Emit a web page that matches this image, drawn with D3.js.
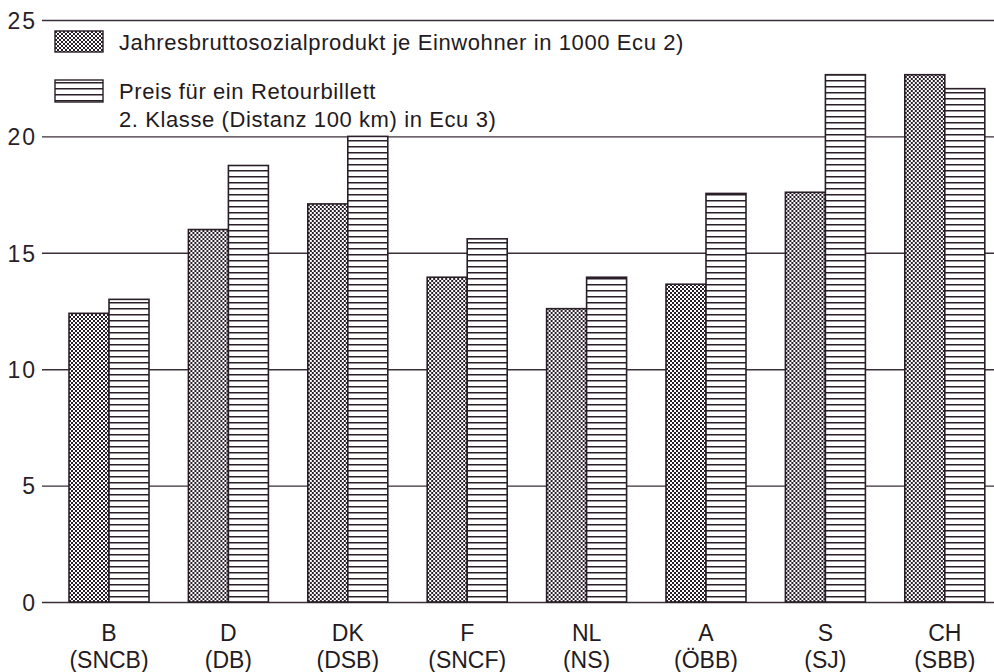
<!DOCTYPE html>
<html>
<head>
<meta charset="utf-8">
<script src="https://cdn.jsdelivr.net/npm/d3@7"></script>
<style>
  body { margin: 0; background: #fff; }
  svg { display: block; }
  text { font-family: "Liberation Sans", Arial, Helvetica, sans-serif; fill: #231a22; }
</style>
</head>
<body>
<div id="chart"></div>
<script>
// Country codes and railway names (x axis, two lines)
const countries = ['B', 'D', 'DK', 'F', 'NL', 'A', 'S', 'CH'];
const railways = ['(SNCB)', '(DB)', '(DSB)', '(SNCF)', '(NS)', '(ÖBB)', '(SJ)', '(SBB)'];

// GNP per inhabitant, 1000 Ecu
const gnpValues = [12.4, 16.0, 17.1, 13.95, 12.6, 13.65, 17.6, 22.65];
// Return ticket price, 2nd class, 100 km, Ecu
const ticketValues = [13.0, 18.75, 20.0, 15.6, 13.95, 17.55, 22.65, 22.05];

const yTicks = [0, 5, 10, 15, 20, 25];

const seriesKeys = ['gnp', 'ticket'];
const legendLines = [
    ['Jahresbruttosozialprodukt je Einwohner in 1000 Ecu 2)'],
    ['Preis für ein Retourbillett', '2. Klasse (Distanz 100 km) in Ecu 3)']
];

function drawChart() {
    const width = 994;
    const height = 672;
    const ink = '#2a1f29';

    const data = countries.map((c, i) => ({
        country: c,
        railway: railways[i],
        gnp: gnpValues[i],
        ticket: ticketValues[i]
    }));

    const svg = d3.select('#chart').append('svg')
        .attr('width', width)
        .attr('height', height);

    // Fill patterns: fine checker and horizontal hatching
    const defs = svg.append('defs');
    const checker = defs.append('pattern')
        .attr('id', 'pat-gnp')
        .attr('patternUnits', 'userSpaceOnUse')
        .attr('width', 4)
        .attr('height', 4);
    checker.append('rect').attr('width', 4).attr('height', 4).attr('fill', '#fff');
    checker.append('rect').attr('width', 2).attr('height', 2).attr('fill', ink);
    checker.append('rect').attr('x', 2).attr('y', 2).attr('width', 2).attr('height', 2).attr('fill', ink);

    const stripes = defs.append('pattern')
        .attr('id', 'pat-ticket')
        .attr('patternUnits', 'userSpaceOnUse')
        .attr('width', 8)
        .attr('height', 6);
    stripes.append('rect').attr('width', 8).attr('height', 6).attr('fill', '#fff');
    stripes.append('rect').attr('y', 2).attr('width', 8).attr('height', 1.5).attr('fill', ink);

    // Scales
    const yScale = d3.scaleLinear()
        .domain([0, 25])
        .range([602, 20]);

    const xScale = d3.scaleBand()
        .domain(countries)
        .range([49.3, 1004.5])
        .paddingInner(0.33)
        .paddingOuter(0.165);

    const xInner = d3.scaleBand()
        .domain(seriesKeys)
        .range([0, xScale.bandwidth()]);

    // Grid lines with labels
    const yAxis = d3.axisLeft(yScale)
        .tickValues(yTicks)
        .tickSize(-(width - 42))
        .tickPadding(6);

    const gAxis = svg.append('g')
        .attr('transform', 'translate(42,0)')
        .call(yAxis);
    gAxis.select('.domain').remove();
    gAxis.selectAll('.tick line')
        .attr('stroke', '#3a2e38')
        .attr('stroke-width', 1.4);
    gAxis.selectAll('.tick text')
        .attr('x', -5)
        .attr('dy', '0.36em')
        .style('font-size', '23px')
        .style('letter-spacing', '2px')
        .style('font-family', '"Liberation Sans", Arial, sans-serif')
        .style('fill', ink);

    // Bars
    const groups = svg.append('g')
        .selectAll('g')
        .data(data)
        .join('g')
        .attr('transform', d => `translate(${xScale(d.country)},0)`);

    groups.selectAll('rect')
        .data(d => seriesKeys.map(k => ({ key: k, value: d[k] })))
        .join('rect')
        .attr('x', d => xInner(d.key))
        .attr('y', d => yScale(d.value))
        .attr('width', xInner.bandwidth())
        .attr('height', d => yScale(0) - yScale(d.value))
        .attr('fill', d => `url(#pat-${d.key})`)
        .attr('stroke', ink)
        .attr('stroke-width', 1.6);

    // Category labels
    const labels = svg.append('g')
        .selectAll('text')
        .data(data)
        .join('text')
        .attr('x', d => xScale(d.country) + xScale.bandwidth() / 2)
        .attr('y', 641)
        .attr('text-anchor', 'middle')
        .style('font-size', '23px');
    labels.append('tspan').text(d => d.country);
    labels.append('tspan')
        .attr('x', d => xScale(d.country) + xScale.bandwidth() / 2)
        .attr('dy', 27)
        .text(d => d.railway);

    // Legend
    const legend = svg.append('g').attr('transform', 'translate(55,0)');
    const legendY = [31, 80];
    legendLines.forEach((lines, i) => {
        const item = legend.append('g').attr('transform', `translate(0,${legendY[i]})`);
        item.append('rect')
            .attr('width', 48)
            .attr('height', i === 0 ? 21 : 22)
            .attr('fill', `url(#pat-${seriesKeys[i]})`)
            .attr('stroke', ink)
            .attr('stroke-width', 1.4);
        const t = item.append('text')
            .attr('x', 64)
            .attr('y', 19)
            .style('font-size', '22px')
            .style('letter-spacing', '0.6px');
        lines.forEach((line, j) => {
            t.append('tspan')
                .attr('x', 64)
                .attr('dy', j === 0 ? 0 : 28)
                .text(line);
        });
    });
}

drawChart();
</script>
</body>
</html>
